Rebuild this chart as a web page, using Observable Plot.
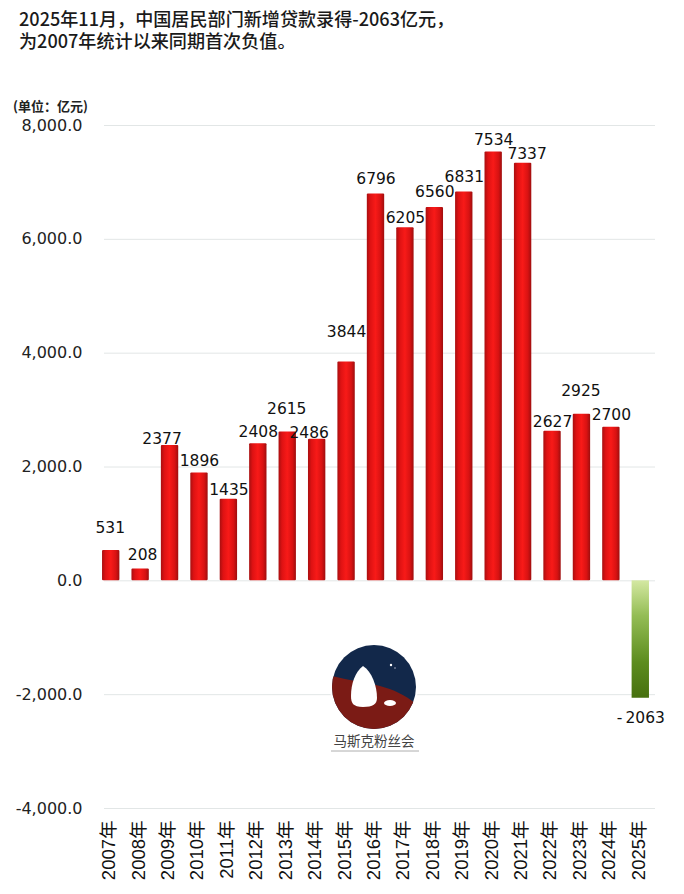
<!DOCTYPE html>
<html><head><meta charset="utf-8">
<script src="https://cdn.jsdelivr.net/npm/d3@7"></script>
<script src="https://cdn.jsdelivr.net/npm/@observablehq/plot@0.6"></script>
<style>
html,body{margin:0;padding:0;background:#fff;}
#wrap{position:relative;width:684px;height:894px;overflow:hidden;}
#title{height:60px;box-sizing:border-box;padding:7px 0 0 19px;font:500 18.1px/22px "Noto Sans CJK SC",sans-serif;color:#1a1a1a;white-space:nowrap;}
#logo{position:absolute;left:0;top:0;pointer-events:none;}
svg{display:block;}
</style></head><body>
<div id="wrap">
<div id="title">2025年11月，中国居民部门新增贷款录得-2063亿元，<br>为2007年统计以来同期首次负值。</div>
<div id="chart"></div>
<svg id="logo" width="684" height="894" viewBox="0 0 684 894">
  <defs><clipPath id="disc"><circle cx="374" cy="687" r="42"/></clipPath></defs>
  <circle cx="374" cy="687" r="44" fill="#fff"/>
  <circle cx="374" cy="687" r="42" fill="#12284a"/>
  <path clip-path="url(#disc)" d="M325 674 C345 680 365 682 380 686 C395 690 408 696 420 708 L420 735 L325 735 Z" fill="#7b1b15"/>
  <path d="M363 666 C372 672 377 686 377 698 C377 704 373 707 363 707 C353 707 351 703 351 696 C351 684 355 672 363 666 Z" fill="#fff"/>
  <ellipse cx="390" cy="703" rx="6" ry="3" fill="#fff"/>
  <circle cx="391" cy="665" r="1.2" fill="#fff"/><circle cx="395" cy="668" r="0.7" fill="#ccd"/>
  <text x="374" y="746" text-anchor="middle" font-family="Noto Sans CJK SC" font-size="13.5" fill="#444">马斯克粉丝会</text>
  <line x1="331" x2="419" y1="751" y2="751" stroke="#999" stroke-width="0.8"/>
</svg>
</div>
<script>
const years = ["2007年","2008年","2009年","2010年","2011年","2012年","2013年","2014年","2015年","2016年","2017年","2018年","2019年","2020年","2021年","2022年","2023年","2024年","2025年"];
const values = [531,208,2377,1896,1435,2408,2615,2486,3844,6796,6205,6560,6831,7534,7337,2627,2925,2700,-2063];
const valueTicks = [8000,6000,4000,2000,0,-2000,-4000];
const unitLabel = "(单位：亿元)";

const rows = years.map((year,i)=>({year,value:values[i]}));
const pos = rows.filter(d=>d.value>=0), neg = rows.filter(d=>d.value<0);
const numFont = {fontFamily:"DejaVu Sans",fontSize:15.5,fill:"#111"};

const labels = (ys,dy,dx=0)=>Plot.text(rows.filter(d=>ys.includes(+d.year.slice(0,4))),{
  x:"year",y:"value",text:d=>d.value<0?"-\u2009"+(-d.value):String(d.value),dy,dx,...numFont});

const defs = ()=>{
  const s = d3.create("svg:defs");
  const r = s.append("linearGradient").attr("id","redBar");
  [[0,"#a80f10"],[.2,"#de1213"],[.5,"#f81a18"],[.8,"#d81212"],[1,"#9e0e0e"]]
    .forEach(([o,c])=>r.append("stop").attr("offset",o).attr("stop-color",c));
  const g = s.append("linearGradient").attr("id","greenBar").attr("x1",0).attr("x2",0).attr("y1",0).attr("y2",1);
  [[0,"#d4e8a2"],[.3,"#94bd55"],[.7,"#5c8c1e"],[1,"#47700f"]]
    .forEach(([o,c])=>g.append("stop").attr("offset",o).attr("stop-color",c));
  return s.node();
};

const plot = Plot.plot({
  width:684,height:834,
  marginTop:65,marginBottom:86,marginLeft:96,marginRight:29,
  x:{domain:years,paddingInner:0.41,paddingOuter:0.205,round:false,label:null},
  y:{domain:[-4000,8000],label:null},
  style:{background:"transparent",overflow:"visible"},
  marks:[
    defs,
    Plot.gridY(valueTicks,{stroke:"#e2e6e6",strokeOpacity:1,strokeWidth:1,insetLeft:8}),
    Plot.barY(pos,{x:"year",y:"value",fill:"url(#redBar)",rx:1}),
    Plot.barY(neg,{x:"year",y:"value",fill:"url(#greenBar)"}),
    Plot.axisY({ticks:valueTicks,tickSize:0,tickPadding:14,label:null,
      tickFormat:d=>d3.format(",.1f")(d).replace("−","-"),
      fontFamily:"DejaVu Sans",fontSize:16,fill:"#222"}),
    Plot.axisX({tickSize:0,tickRotate:-90,tickPadding:12,label:null,dx:-2,
      fontFamily:"'Liberation Sans','Noto Sans CJK SC'",fontSize:18.5,fill:"#111"}),
    labels([2007,2013,2023],-23,-1),
    labels([2008],-14,2),
    labels([2009],-7,-8),
    labels([2014],-6,-8),
    labels([2010,2012,2024],-12),
    labels([2011,2022],-9),
    labels([2017],-10),
    labels([2021],-9,4),
    labels([2016,2018,2019],-15),
    labels([2020],-12),
    labels([2015],-30),
    labels([2025],20),
    Plot.text([unitLabel],{frameAnchor:"top-left",dx:-46,dy:-24,textAnchor:"middle",
      fontFamily:"Noto Sans CJK SC",fontSize:13,fontWeight:700,fill:"#222"})
  ]
});
document.getElementById("chart").append(plot);
</script>
</body></html>
